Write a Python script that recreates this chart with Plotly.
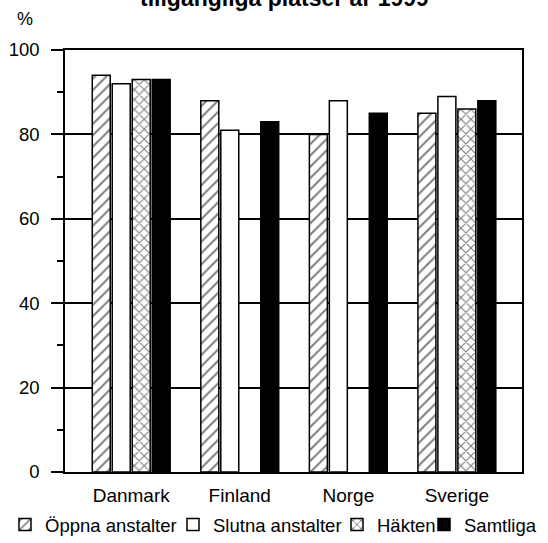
import plotly.graph_objects as go

# Data
countries = ["Danmark", "Finland", "Norge", "Sverige"]
oppna = [94, 88, 80, 85]
slutna = [92, 81, 88, 89]
hakten = [93, None, None, 86]
samtliga = [93, 83, 85, 88]
y_ticks = [0, 20, 40, 60, 80, 100]

FONT = "Liberation Sans, Arial, sans-serif"
L, R, T, B = 65, 26, 50, 71
W, H = 548, 543
PW, PH = W - L - R, H - T - B


def px_x(p):
    return (p - L) / PW


def px_y(p):
    return (H - B - p) / PH


fig = go.Figure()
line = dict(color="black", width=1.5)
fig.add_trace(go.Bar(
    x=countries, y=oppna, name="Öppna anstalter", legend="legend",
    marker=dict(color="white", line=line,
                pattern=dict(shape="/", fgcolor="black", bgcolor="white", size=8, solidity=0.26)),
))
fig.add_trace(go.Bar(
    x=countries, y=slutna, name="Slutna anstalter", legend="legend2",
    marker=dict(color="white", line=line),
))
fig.add_trace(go.Bar(
    x=countries, y=hakten, name="Häkten", legend="legend3",
    marker=dict(color="white", line=line,
                pattern=dict(shape="x", fgcolor="black", bgcolor="white", size=7, solidity=0.3)),
))
fig.add_trace(go.Bar(
    x=countries, y=samtliga, name="Samtliga", legend="legend4",
    marker=dict(color="black", line=line),
))


def leg(text_start):
    return dict(orientation="h", x=px_x(text_start - 40), xanchor="left",
                y=px_y(525), yanchor="middle",
                font=dict(family=FONT, size=18.5, color="black"),
                bgcolor="rgba(0,0,0,0)", borderwidth=0)


fig.update_layout(
    width=W, height=H,
    margin=dict(l=L, r=R, t=T, b=B, autoexpand=False),
    paper_bgcolor="white", plot_bgcolor="white",
    barmode="group", bargap=0.264, bargroupgap=0.1,
    font=dict(family=FONT, size=18, color="black"),
    showlegend=True,
    legend=leg(45), legend2=leg(213), legend3=leg(377), legend4=leg(464),
    xaxis=dict(
        type="category", range=[-0.61, 3.6],
        showline=True, linecolor="black", linewidth=1.5, mirror=True,
        ticks="", showgrid=False, ticklabelstandoff=5,
        tickfont=dict(family=FONT, size=19, color="black"),
    ),
    yaxis=dict(
        range=[0, 100], tickvals=y_ticks,
        showline=True, linecolor="black", linewidth=1.5, mirror=True,
        ticks="outside", ticklen=12, tickwidth=1.5, tickcolor="black",
        showgrid=True, gridcolor="black", gridwidth=1.5, zeroline=False,
        minor=dict(dtick=10, ticks="outside", ticklen=6, tickwidth=1.5, tickcolor="black", showgrid=False),
        ticklabelstandoff=8,
        tickfont=dict(family=FONT, size=18.5, color="black"),
    ),
    annotations=[
        dict(text="%", xref="paper", yref="paper", x=px_x(25), y=px_y(19),
             xanchor="center", yanchor="middle", showarrow=False,
             font=dict(family=FONT, size=18, color="black")),
        dict(text="<b>tillgängliga platser år 1999</b>", xref="paper", yref="paper",
             x=px_x(284), y=px_y(-2), xanchor="center", yanchor="middle",
             showarrow=False, font=dict(family=FONT, size=23, color="black")),
    ],
)

fig.write_html("out.html", config={"displayModeBar": False},
               post_script="document.body.style.margin='0';")
